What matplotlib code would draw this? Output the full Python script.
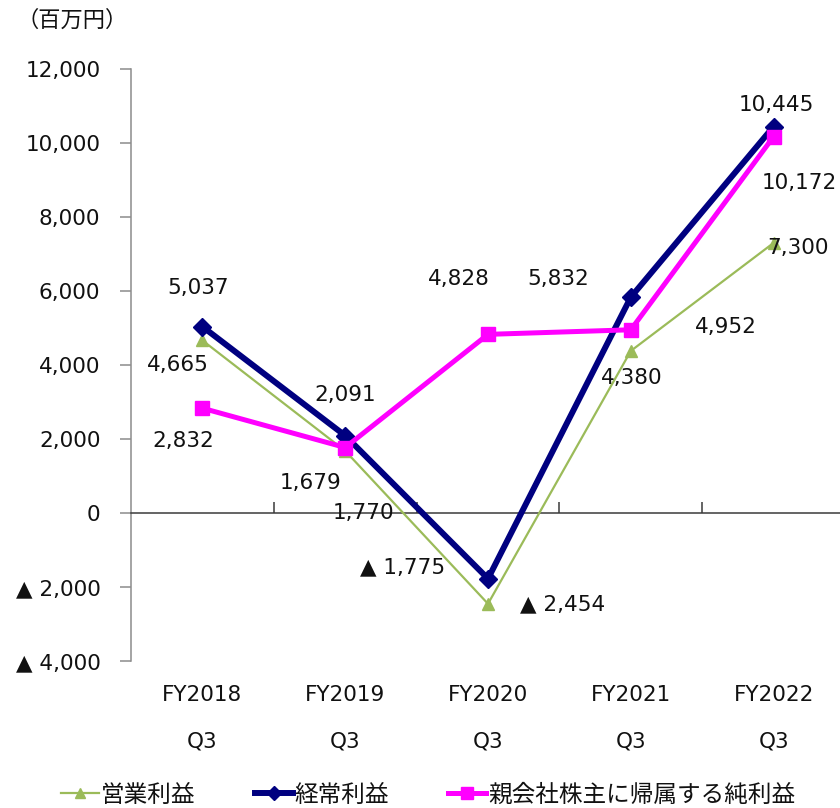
import numpy as np
import matplotlib
matplotlib.use('Agg')
import matplotlib.pyplot as plt
import matplotlib.ticker as ticker
import matplotlib.transforms as mtransforms

plt.rcParams['font.family'] = ['DejaVu Sans', 'Noto Sans CJK JP']

# ---------------- data ----------------
periods = ['FY2018', 'FY2019', 'FY2020', 'FY2021', 'FY2022']
quarter = 'Q3'
op_income = [4665, 1679, -2454, 4380, 7300]        # 営業利益
ord_income = [5037, 2091, -1775, 5832, 10445]      # 経常利益
net_income = [2832, 1770, 4828, 4952, 10172]       # 親会社株主に帰属する純利益
series_names = ['営業利益', '経常利益', '親会社株主に帰属する純利益']
y_ticks = [-4000, -2000, 0, 2000, 4000, 6000, 8000, 10000, 12000]

# label offsets (pixels) for each point
op_off = [(-25, -25), (-35, -32), (75, 0), (1, -27), (24, -5)]
ord_off = [(-4, 39), (0, 41), (-85, 11), (-73, 18), (3, 22)]
net_off = [(-19, -33), (18, -65), (-29, 55), (95, 3), (26, -46)]

GREEN = '#9BBB59'
NAVY = '#000080'
MAGENTA = '#FF00FF'
TXT = '#111111'
FS = 15.5
JP = ['Noto Sans CJK JP', 'DejaVu Sans']


def fmt(v):
    if v < 0:
        return '▲ {:,}'.format(-v)
    return '{:,}'.format(v)


fig = plt.figure(figsize=(8.4, 8.08), dpi=100)
ax = fig.add_axes([131/840, 1-661/808, 714/840, (661-69)/808])

x = np.arange(len(periods))
l1, = ax.plot(x, op_income, color=GREEN, lw=1.6, marker='^', ms=9, zorder=3)
l2, = ax.plot(x, ord_income, color=NAVY, lw=4.3, marker='D', ms=9.5, zorder=4)
l3, = ax.plot(x, net_income, color=MAGENTA, lw=3.6, marker='s', ms=10.5, zorder=5)

for vals, offs in [(op_income, op_off), (ord_income, ord_off), (net_income, net_off)]:
    for i, v in enumerate(vals):
        ax.annotate(fmt(v), (x[i], v), xytext=offs[i], textcoords='offset pixels',
                    ha='center', va='center', fontsize=FS, color=TXT, zorder=6)

ax.set_xlim(-0.5, len(periods) - 0.5)
ax.set_ylim(-4000, 12000)

# axes look
ax.spines['top'].set_visible(False)
ax.spines['right'].set_visible(False)
ax.spines['left'].set_color('#8c8c8c')
ax.spines['left'].set_linewidth(1.1)
ax.spines['bottom'].set_position(('data', 0))
ax.spines['bottom'].set_color('#3a3a3a')
ax.spines['bottom'].set_linewidth(1.1)

ax.yaxis.set_major_locator(ticker.FixedLocator(y_ticks))
ax.yaxis.set_major_formatter(ticker.FuncFormatter(lambda v, p: fmt(int(v))))
ax.tick_params(axis='y', length=8, width=1.1, color='#8c8c8c', labelsize=FS,
               labelcolor=TXT, pad=14)

ax.set_xticks(np.arange(len(periods) - 1) + 0.5)
ax.tick_params(axis='x', direction='in', length=8, width=1.1, color='#3a3a3a',
               labelbottom=False)

# category labels under the plot
trans = mtransforms.blended_transform_factory(ax.transData, fig.transFigure)
for i, p in enumerate(periods):
    ax.text(x[i], 1 - 695/808, p, transform=trans, ha='center', va='center',
            fontsize=FS, color=TXT)
    ax.text(x[i], 1 - 742/808, quarter, transform=trans, ha='center', va='center',
            fontsize=FS, color=TXT)

fig.text(16/840, 1 - 20/808, '（百万円）', family=JP, fontsize=16, color=TXT,
         ha='left', va='center')

leg = fig.legend([l1, l2, l3], series_names, loc='center', ncol=3,
                 bbox_to_anchor=(0.51, 1 - 795/808), frameon=False,
                 prop={'family': JP, 'size': 17}, handlelength=1.6,
                 handletextpad=0.1, columnspacing=2.5, markerscale=0.8)
for t in leg.get_texts():
    t.set_color(TXT)

fig.savefig('out.png', dpi=100)
